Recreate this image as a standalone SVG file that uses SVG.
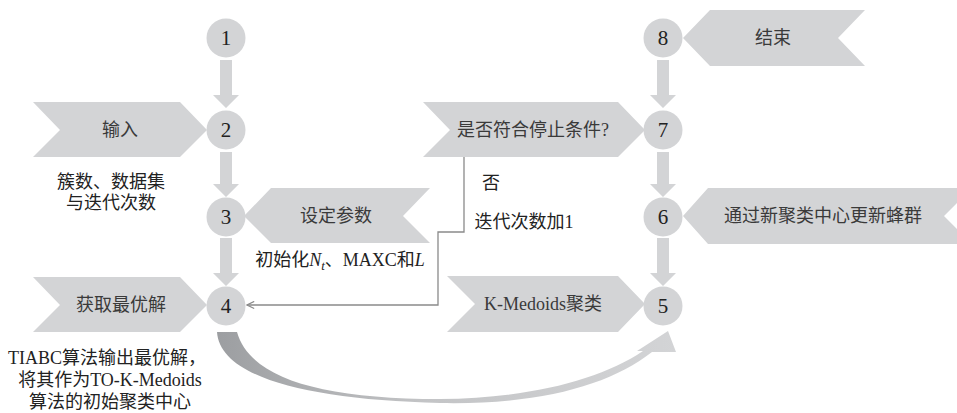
<svg xmlns="http://www.w3.org/2000/svg" width="957" height="413" viewBox="0 0 957 413">
<defs>
<style>
.shape{fill:#d3d4d6;}
.circ{fill:#d3d4d6;}
.barrow{fill:#d3d4d6;}
.num{font-family:"Liberation Serif","Noto Sans CJK SC",serif;font-size:21px;fill:#222;text-anchor:middle;}
.lbl{font-family:"Liberation Serif","Noto Sans CJK SC",serif;font-size:18px;fill:#3a3a3a;text-anchor:middle;}
.note{font-family:"Liberation Serif","Noto Sans CJK SC",serif;font-size:18px;fill:#222;text-anchor:middle;}
.line{fill:none;stroke:#8a8a8a;stroke-width:1.3;}
</style>
<marker id="open" viewBox="0 0 10 10" refX="9" refY="5" markerWidth="9" markerHeight="9" markerUnits="userSpaceOnUse" orient="auto">
<polyline points="1,1 9,5 1,9" fill="none" stroke="#8a8a8a" stroke-width="1.3"/>
</marker>
<linearGradient id="curveGrad" gradientUnits="userSpaceOnUse" x1="217" y1="0" x2="676" y2="0">
<stop offset="0" stop-color="#9c9ea1"/>
<stop offset="0.45" stop-color="#c3c4c6"/>
<stop offset="1" stop-color="#d3d4d6"/>
</linearGradient>
</defs>

<g id="connectors">
<polygon class="barrow" points="220,60 232,60 232,95 239,95 226,108 213,95 220,95"/>
<polygon class="barrow" points="220,152 232,152 232,184 239,184 226,197 213,184 220,184"/>
<polygon class="barrow" points="220,238 232,238 232,273 239,273 226,286 213,273 220,273"/>
<polygon class="barrow" points="657,60 669,60 669,95 676,95 663,108 650,95 657,95"/>
<polygon class="barrow" points="657,152 669,152 669,184 676,184 663,197 650,184 657,184"/>
<polygon class="barrow" points="657,238 669,238 669,273 676,273 663,286 650,273 657,273"/>
<path class="line" d="M464,157 V232 H438 V305 H247" marker-end="url(#open)"/>
<path fill="url(#curveGrad)" d="M217,332 C220,378 310,400 440,403 C540,405 610,385 652,352 L676,352 L668,331 L637,351 L643,351 C600,380 530,398 440,399 C320,399 250,378 237,332 Z"/>
</g>

<g id="node-input">
<polygon class="shape" points="33,102 180,102 207,130 180,157 33,157 60,130"/>
<text class="lbl" x="120" y="136">输入</text>
<text class="note" x="111" y="188">簇数、数据集</text>
<text class="note" x="111" y="209">与迭代次数</text>
</g>

<g id="node-best">
<polygon class="shape" points="33,277 180,277 207,305 180,332 33,332 60,305"/>
<text class="lbl" x="121" y="311">获取最优解</text>
<text class="note" x="107" y="364">TIABC算法输出最优解，</text>
<text class="note" x="110" y="386">将其作为TO-K-Medoids</text>
<text class="note" x="110" y="408">算法的初始聚类中心</text>
</g>

<g id="node-params">
<polygon class="shape" points="430,188 271,188 244,216 271,243 430,243 403,216"/>
<text class="lbl" x="336" y="222">设定参数</text>
<text class="note" x="340" y="266">初始化<tspan font-style="italic">N</tspan><tspan font-style="italic" font-size="13" dy="4">t</tspan><tspan dy="-4">、MAXC和</tspan><tspan font-style="italic">L</tspan></text>
</g>

<g id="node-stop">
<polygon class="shape" points="423,102 618,102 645,130 618,157 423,157 450,130"/>
<text class="lbl" x="533" y="136">是否符合停止条件?</text>
<text class="note" x="491" y="189">否</text>
<text class="note" x="524" y="228">迭代次数加1</text>
</g>

<g id="node-kmed">
<polygon class="shape" points="447,276 618,276 645,304 618,332 447,332 475,304"/>
<text class="lbl" x="543" y="310">K-Medoids聚类</text>
</g>

<g id="node-end">
<polygon class="shape" points="683,38 710,10 865,10 838,38 865,66 710,66"/>
<text class="lbl" x="773" y="44">结束</text>
</g>

<g id="node-update">
<polygon class="shape" points="683,216 708,188 972,188 944,216 972,244 708,244"/>
<text class="lbl" x="823" y="222">通过新聚类中心更新蜂群</text>
</g>

<g id="node-1"><circle class="circ" cx="226" cy="38" r="19.5"/><text class="num" x="226" y="45">1</text></g>
<g id="node-2"><circle class="circ" cx="226" cy="130" r="19.5"/><text class="num" x="226" y="137">2</text></g>
<g id="node-3"><circle class="circ" cx="226" cy="217" r="19.5"/><text class="num" x="226" y="224">3</text></g>
<g id="node-4"><circle class="circ" cx="226" cy="306" r="19.5"/><text class="num" x="226" y="313">4</text></g>
<g id="node-5"><circle class="circ" cx="663" cy="306" r="19.5"/><text class="num" x="663" y="313">5</text></g>
<g id="node-6"><circle class="circ" cx="663" cy="217" r="19.5"/><text class="num" x="663" y="224">6</text></g>
<g id="node-7"><circle class="circ" cx="663" cy="130" r="19.5"/><text class="num" x="663" y="137">7</text></g>
<g id="node-8"><circle class="circ" cx="663" cy="38" r="19.5"/><text class="num" x="663" y="45">8</text></g>
</svg>
